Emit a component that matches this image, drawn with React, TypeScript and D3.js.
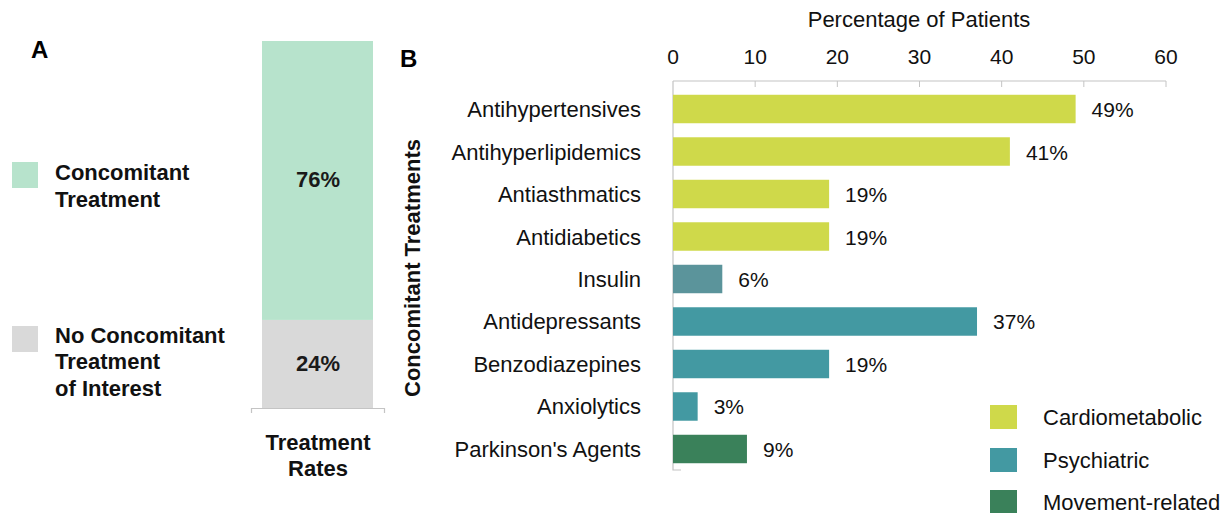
import React from "react";
import * as d3 from "d3";

const categories = [
  "Antihypertensives",
  "Antihyperlipidemics",
  "Antiasthmatics",
  "Antidiabetics",
  "Insulin",
  "Antidepressants",
  "Benzodiazepines",
  "Anxiolytics",
  "Parkinson's Agents",
];
const values = [49, 41, 19, 19, 6, 37, 19, 3, 9];
const groups = [
  "Cardiometabolic",
  "Cardiometabolic",
  "Cardiometabolic",
  "Cardiometabolic",
  "Insulin",
  "Psychiatric",
  "Psychiatric",
  "Psychiatric",
  "Movement-related",
];
const xTicks = [0, 10, 20, 30, 40, 50, 60];
const legendB = ["Cardiometabolic", "Psychiatric", "Movement-related"];

const stackLabels = ["No Concomitant Treatment of Interest", "Concomitant Treatment"];
const stackValues = [24, 76];

const groupColor: Record<string, string> = {
  Cardiometabolic: "#cfd94a",
  Insulin: "#5b949b",
  Psychiatric: "#4399a2",
  "Movement-related": "#3a815a",
};
const stackColors = ["#d9d9d9", "#b7e3cc"];

const FONT = "'Liberation Sans', Arial, sans-serif";

export default function App() {
  const x = d3.scaleLinear().domain([0, 60]).range([673, 1166]);
  const y = d3.scaleBand<string>().domain(categories).range([81, 477]).paddingInner(0.33).paddingOuter(0.324);
  const ys = d3.scaleLinear().domain([0, 100]).range([408, 41]);

  let cum = 0;
  const stacks = stackValues.map((v, i) => {
    const s = { y0: cum, y1: cum + v, v, color: stackColors[i] };
    cum += v;
    return s;
  });

  return (
    <svg
      width={1226}
      height={513}
      style={{ position: "absolute", left: 0, top: 0, background: "#fff" }}
      fontFamily={FONT}
    >
      {/* Panel A */}
      <text x={31} y={58} fontSize={24} fontWeight="bold" fill="#000">A</text>
      {stacks.map((s, i) => (
        <g key={i}>
          <rect x={262} width={111} y={ys(s.y1)} height={ys(s.y0) - ys(s.y1)} fill={s.color} />
          <text
            x={318}
            y={(ys(s.y0) + ys(s.y1)) / 2 + 7}
            textAnchor="middle"
            fontSize={22}
            fontWeight="bold"
            fill="#1a1a1a"
          >
            {s.v}%
          </text>
        </g>
      ))}
      <path d="M251.5,413V408.5H384.5V413" fill="none" stroke="#c4c4c4" strokeWidth={1.2} />
      <text x={318} y={450} textAnchor="middle" fontSize={22} fontWeight="bold" fill="#111">Treatment</text>
      <text x={318} y={476} textAnchor="middle" fontSize={22} fontWeight="bold" fill="#111">Rates</text>

      <rect x={12} y={162} width={26} height={26} fill={stackColors[1]} />
      <text x={55} y={180} fontSize={22} fontWeight="bold" fill="#111">Concomitant</text>
      <text x={55} y={207} fontSize={22} fontWeight="bold" fill="#111">Treatment</text>
      <rect x={12} y={326} width={26} height={26} fill={stackColors[0]} />
      <text x={55} y={343} fontSize={22} fontWeight="bold" fill="#111">No Concomitant</text>
      <text x={55} y={369} fontSize={22} fontWeight="bold" fill="#111">Treatment</text>
      <text x={55} y={396} fontSize={22} fontWeight="bold" fill="#111">of Interest</text>

      {/* Panel B */}
      <text x={400} y={67} fontSize={24} fontWeight="bold" fill="#000">B</text>
      <text x={919} y={27} textAnchor="middle" fontSize={22} fill="#111">Percentage of Patients</text>
      {xTicks.map((t) => (
        <g key={t}>
          <text x={x(t)} y={64} textAnchor="middle" fontSize={21} fill="#111">{t}</text>
          {t > 0 && <line x1={x(t)} x2={x(t)} y1={81} y2={87} stroke="#c4c4c4" strokeWidth={1} />}
        </g>
      ))}
      <line x1={x(0)} x2={x(60)} y1={81} y2={81} stroke="#c4c4c4" strokeWidth={1.2} />
      <path d={`M${x(0)},81V470H${x(0) + 8}`} fill="none" stroke="#c4c4c4" strokeWidth={1.2} />

      <text
        transform={`translate(420,268) rotate(-90)`}
        textAnchor="middle"
        fontSize={22}
        fontWeight="bold"
        fill="#111"
      >
        Concomitant Treatments
      </text>

      {categories.map((c, i) => {
        const yy = y(c)!;
        const bw = y.bandwidth();
        return (
          <g key={c}>
            <text x={641} y={yy + bw / 2 + 8} textAnchor="end" fontSize={22} fill="#111">{c}</text>
            <rect x={x(0)} y={yy} width={x(values[i]) - x(0)} height={bw} fill={groupColor[groups[i]]} />
            <text x={x(values[i]) + 16} y={yy + bw / 2 + 8} fontSize={21} fill="#111">{values[i]}%</text>
          </g>
        );
      })}

      {legendB.map((g, i) => {
        const ly = [405, 448, 490][i];
        return (
          <g key={g}>
            <rect x={990} y={ly} width={27} height={24} fill={groupColor[g]} />
            <text x={1043} y={ly + 20} fontSize={22} fill="#111">{g}</text>
          </g>
        );
      })}
    </svg>
  );
}
